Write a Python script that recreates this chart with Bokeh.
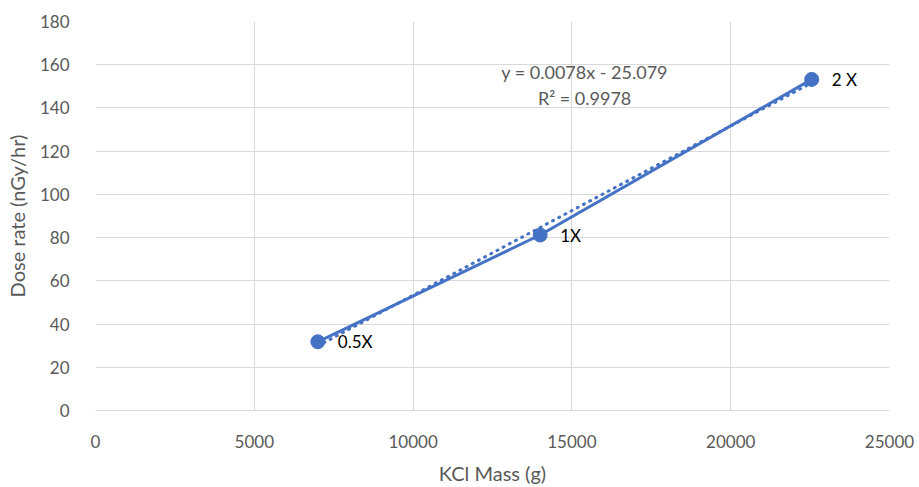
import numpy as np
from bokeh.plotting import figure
from bokeh.models import Range1d, FixedTicker, ColumnDataSource, LabelSet, Label
from bokeh.core.properties import value
from bokeh.embed import file_html
from bokeh.resources import INLINE

kcl_mass = [7000, 14000, 22550]
dose_rate = [31.8, 81.2, 153.2]
point_labels = ["0.5X", "1X", "2 X"]
x_ticks = [0, 5000, 10000, 15000, 20000, 25000]
y_ticks = [0, 20, 40, 60, 80, 100, 120, 140, 160, 180]
eq_text = "y = 0.0078x - 25.079"
r2_text = "R² = 0.9978"

FONT = "Lato"
GRAY = "#595959"
BLUE = "#4472C4"
GRID = "#d9d9d9"

p = figure(width=919, height=487, output_backend="svg", toolbar_location=None,
           x_range=Range1d(0, 25000), y_range=Range1d(0, 180),
           min_border_left=95, min_border_right=30, min_border_top=21, min_border_bottom=76)
p.outline_line_color = None
p.background_fill_color = "white"

p.xaxis.ticker = FixedTicker(ticks=x_ticks)
p.yaxis.ticker = FixedTicker(ticks=y_ticks)
for ax in (p.xaxis[0], p.yaxis[0]):
    ax.major_tick_line_color = None
    ax.minor_tick_line_color = None
    ax.major_label_text_font = FONT
    ax.major_label_text_font_size = "17px"
    ax.major_label_text_color = GRAY
    ax.axis_label_text_font = FONT
    ax.axis_label_text_font_size = "20px"
    ax.axis_label_text_color = GRAY
    ax.axis_label_text_font_style = "normal"
p.yaxis.axis_line_color = None
p.xaxis.axis_line_color = GRID
p.xaxis.axis_label = "KCl Mass (g)"
p.yaxis.axis_label = "Dose rate (nGy/hr)"
p.xaxis.major_label_standoff = 18
p.yaxis.major_label_standoff = 20
p.xaxis.axis_label_standoff = 10
p.yaxis.axis_label_standoff = 8

p.xgrid.ticker = FixedTicker(ticks=x_ticks)
p.ygrid.ticker = FixedTicker(ticks=y_ticks)
p.grid.grid_line_color = GRID
p.grid.grid_line_width = 1

# linear trendline
slope, intercept = np.polyfit(kcl_mass, dose_rate, 1)
tx = [kcl_mass[0], kcl_mass[-1]]
ty = [slope * v + intercept for v in tx]
p.line(tx, ty, line_color=BLUE, line_width=3, line_dash="1 6", line_cap="round")

src = ColumnDataSource(dict(x=kcl_mass, y=dose_rate, t=point_labels))
p.line("x", "y", source=src, line_color=BLUE, line_width=3)
p.scatter("x", "y", source=src, size=14, fill_color=BLUE, line_color=BLUE)

labels = LabelSet(x="x", y="y", text="t", source=src, x_offset=20, y_offset=0,
                  text_baseline="middle", text_font=value(FONT), text_font_size=value("17px"),
                  text_color="black")
p.add_layout(labels)

p.add_layout(Label(x=15400, y=156.5, text=eq_text, text_align="center",
                   text_baseline="middle", text_font=FONT, text_font_size="18px",
                   text_color=GRAY))
p.add_layout(Label(x=15400, y=144.5, text=r2_text, text_align="center",
                   text_baseline="middle", text_font=FONT, text_font_size="18px",
                   text_color=GRAY))

open("out.html", "w").write(file_html(p, INLINE))
